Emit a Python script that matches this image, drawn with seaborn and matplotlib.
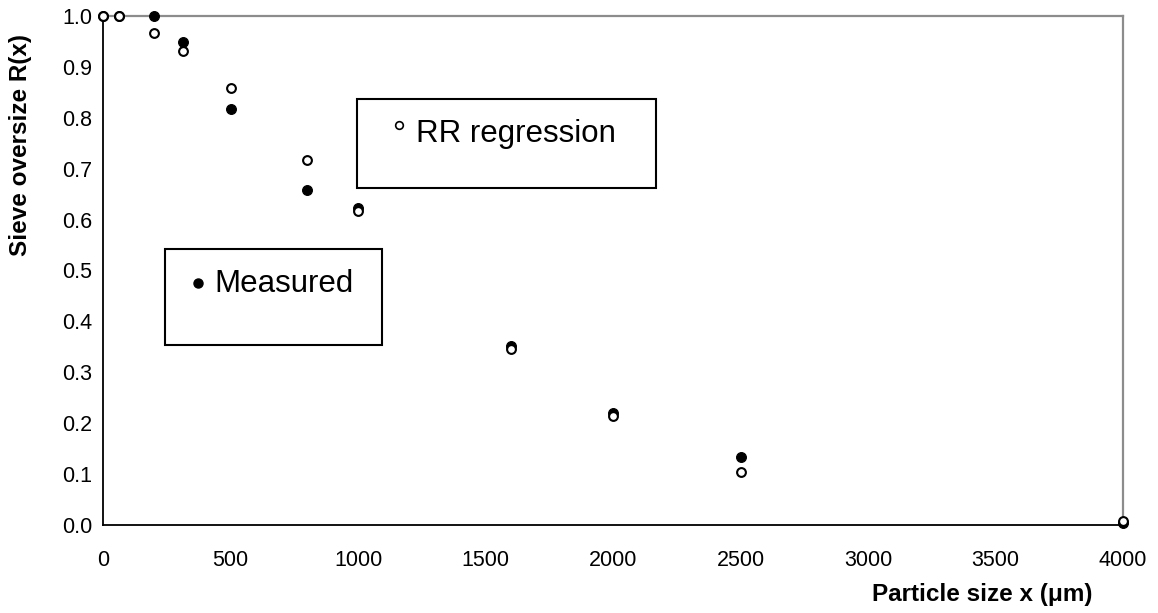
import matplotlib
matplotlib.use("Agg")
import matplotlib.pyplot as plt
import seaborn as sns
import pandas as pd
from matplotlib.patches import Rectangle
from matplotlib.lines import Line2D

# Data
sizes = [0, 63, 200, 315, 500, 800, 1000, 1600, 2000, 2500, 4000]
measured = [1.0, 1.0, 1.0, 0.949, 0.818, 0.659, 0.622, 0.352, 0.221, 0.133, 0.003]
rr_regression = [1.0, 1.0, 0.967, 0.931, 0.859, 0.718, 0.616, 0.345, 0.214, 0.104, 0.008]
x_ticks = [0, 500, 1000, 1500, 2000, 2500, 3000, 3500, 4000]
y_ticks = [0.0, 0.1, 0.2, 0.3, 0.4, 0.5, 0.6, 0.7, 0.8, 0.9, 1.0]

sns.set_style("white")
plt.rcParams['font.family'] = ['Liberation Sans', 'DejaVu Sans']
plt.rcParams['text.color'] = 'black'
plt.rcParams['axes.labelcolor'] = 'black'

df = pd.DataFrame({"size": sizes, "measured": measured, "rr": rr_regression})

W, H = 1158, 613
fig = plt.figure(figsize=(W / 100, H / 100), dpi=100)
ax = fig.add_axes([103/W, 1 - 525/H, (1123 - 103)/W, (525 - 16)/H])

sns.scatterplot(data=df, x="size", y="measured", ax=ax, s=50, color="black",
                edgecolor="black", linewidth=0.8, zorder=3, clip_on=False)
sns.scatterplot(data=df, x="size", y="rr", ax=ax, s=40, color="white",
                edgecolor="black", linewidth=1.5, zorder=4, clip_on=False)

ax.set_xlim(0, 4000)
ax.set_ylim(0, 1.0)
ax.set_xticks(x_ticks)
ax.set_yticks(y_ticks)
ax.set_xticklabels([str(t) for t in x_ticks])
ax.set_yticklabels([f"{t:.1f}" for t in y_ticks])
ax.tick_params(axis="both", direction="in", length=7, width=1, labelsize=15.5,
               colors="black", labelcolor="black")
ax.tick_params(axis="x", pad=18)
ax.tick_params(axis="y", pad=8)

for side in ["left", "bottom"]:
    ax.spines[side].set_color("black")
    ax.spines[side].set_linewidth(1.3)
for side in ["top", "right"]:
    ax.spines[side].set_color("#8c8c8c")
    ax.spines[side].set_linewidth(1.6)

ax.set_xlabel("")
ax.set_ylabel("")
fig.text(21/W, 1 - 145/H, "Sieve oversize R(x)", fontsize=17.5, fontweight="bold",
         rotation=90, ha="center", va="center")
fig.text(1092/W, 1 - 601/H, "Particle size x (\u03bcm)", fontsize=17.5,
         fontweight="bold", ha="right", va="baseline")


def fig_box(x0, y0, x1, y1):
    fig.patches.append(Rectangle((x0/W, 1 - y1/H), (x1 - x0)/W, (y1 - y0)/H,
                                 transform=fig.transFigure, facecolor="white",
                                 edgecolor="black", linewidth=1.5, zorder=5))


fig_box(357, 99, 656, 188)
fig.lines.append(Line2D([399/W], [1 - 125/H], transform=fig.transFigure, marker="o",
                        markersize=5.5, markerfacecolor="white", markeredgecolor="black",
                        markeredgewidth=1.2, linestyle="none", zorder=6))
fig.text(416/W, 1 - 142/H, "RR regression", fontsize=22.5, ha="left",
         va="baseline", zorder=6)

fig_box(165, 249, 382, 345)
fig.lines.append(Line2D([198/W], [1 - 283/H], transform=fig.transFigure, marker="o",
                        markersize=6.5, markerfacecolor="black", markeredgecolor="black",
                        linestyle="none", zorder=6))
fig.text(214/W, 1 - 292/H, "Measured", fontsize=22.5, ha="left", va="baseline", zorder=6)

fig.savefig("out.png", dpi=100)
